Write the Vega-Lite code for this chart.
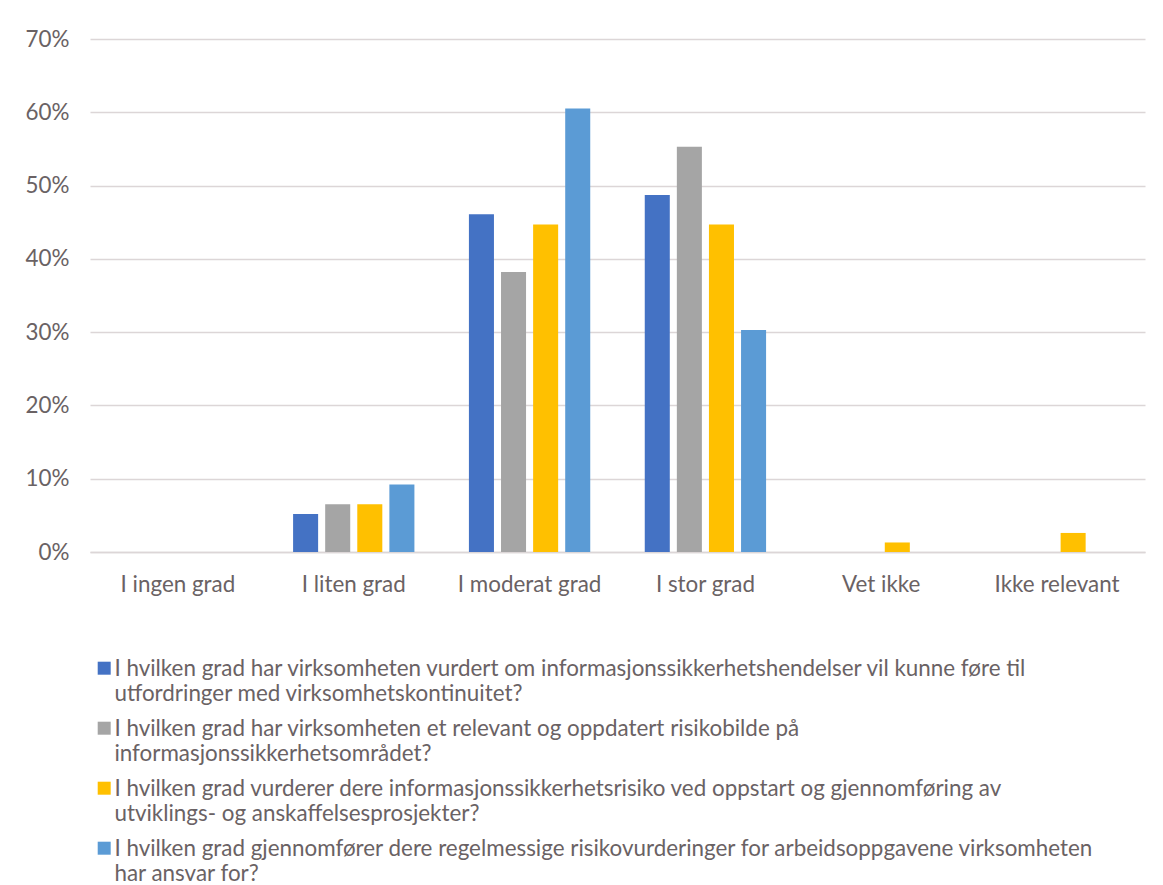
{
  "$schema": "https://vega.github.io/schema/vega-lite/v6.json",
  "width": 1055,
  "height": 513,
  "autosize": {"type": "none"},
  "padding": {"left": 90, "top": 39, "right": 18, "bottom": 333},
  "background": "white",
  "data": {
    "values": [
      {"kategori": "I ingen grad", "serie": "S1", "andel": 0},
      {"kategori": "I ingen grad", "serie": "S2", "andel": 0},
      {"kategori": "I ingen grad", "serie": "S3", "andel": 0},
      {"kategori": "I ingen grad", "serie": "S4", "andel": 0},
      {"kategori": "I liten grad", "serie": "S1", "andel": 0.052},
      {"kategori": "I liten grad", "serie": "S2", "andel": 0.065},
      {"kategori": "I liten grad", "serie": "S3", "andel": 0.065},
      {"kategori": "I liten grad", "serie": "S4", "andel": 0.092},
      {"kategori": "I moderat grad", "serie": "S1", "andel": 0.461},
      {"kategori": "I moderat grad", "serie": "S2", "andel": 0.382},
      {"kategori": "I moderat grad", "serie": "S3", "andel": 0.447},
      {"kategori": "I moderat grad", "serie": "S4", "andel": 0.605},
      {"kategori": "I stor grad", "serie": "S1", "andel": 0.487},
      {"kategori": "I stor grad", "serie": "S2", "andel": 0.553},
      {"kategori": "I stor grad", "serie": "S3", "andel": 0.447},
      {"kategori": "I stor grad", "serie": "S4", "andel": 0.303},
      {"kategori": "Vet ikke", "serie": "S1", "andel": 0},
      {"kategori": "Vet ikke", "serie": "S2", "andel": 0},
      {"kategori": "Vet ikke", "serie": "S3", "andel": 0.013},
      {"kategori": "Vet ikke", "serie": "S4", "andel": 0},
      {"kategori": "Ikke relevant", "serie": "S1", "andel": 0},
      {"kategori": "Ikke relevant", "serie": "S2", "andel": 0},
      {"kategori": "Ikke relevant", "serie": "S3", "andel": 0.026},
      {"kategori": "Ikke relevant", "serie": "S4", "andel": 0}
    ]
  },
  "mark": {"type": "bar"},
  "encoding": {
    "x": {
      "field": "kategori",
      "type": "nominal",
      "sort": ["I ingen grad", "I liten grad", "I moderat grad", "I stor grad", "Vet ikke", "Ikke relevant"],
      "scale": {"paddingInner": 0.31, "paddingOuter": 0.155},
      "axis": {
        "title": null,
        "labelAngle": 0,
        "ticks": false,
        "domain": true,
        "domainColor": "#dcd6d7",
        "domainWidth": 1.5,
        "labelPadding": 21,
        "labelFontSize": 22.4,
        "labelFont": "Lato",
        "labelColor": "#6a6264"
      }
    },
    "xOffset": {
      "field": "serie",
      "type": "nominal",
      "sort": ["S1", "S2", "S3", "S4"],
      "scale": {"paddingInner": 0.22, "paddingOuter": 0}
    },
    "y": {
      "field": "andel",
      "type": "quantitative",
      "scale": {"domain": [0, 0.7]},
      "axis": {
        "title": null,
        "format": ".0%",
        "values": [0, 0.1, 0.2, 0.3, 0.4, 0.5, 0.6, 0.7],
        "labelOverlap": false,
        "ticks": false,
        "domain": false,
        "gridColor": "#dcd6d7",
        "gridWidth": 1.5,
        "labelPadding": 21,
        "labelFontSize": 22.4,
        "labelFont": "Lato",
        "labelColor": "#6a6264"
      }
    },
    "color": {
      "field": "serie",
      "type": "nominal",
      "scale": {
        "domain": ["S1", "S2", "S3", "S4"],
        "range": ["#4472C4", "#A5A5A5", "#FFC000", "#5B9BD5"]
      },
      "legend": {
        "title": null,
        "orient": "none",
        "legendX": 3,
        "legendY": 618,
        "direction": "vertical",
        "symbolType": "square",
        "symbolSize": 169,
        "symbolStrokeWidth": 0,
        "labelFont": "Lato",
        "labelFontSize": 22.4,
        "labelColor": "#6a6264",
        "labelLimit": 1100,
        "labelBaseline": "top",
        "labelOffset": -1,
        "rowPadding": 11,
        "encode": {
          "labels": {"update": {"lineHeight": {"value": 25}, "dy": {"value": -10}}}
        },
        "labelExpr": "datum.value == 'S1' ? ['I hvilken grad har virksomheten vurdert om informasjonssikkerhetshendelser vil kunne føre til', 'utfordringer med virksomhetskontinuitet?'] : datum.value == 'S2' ? ['\u2005I hvilken grad har virksomheten et relevant og oppdatert risikobilde på', 'informasjonssikkerhetsområdet?'] : datum.value == 'S3' ? ['\u2005I hvilken grad vurderer dere informasjonssikkerhetsrisiko ved oppstart og gjennomføring av', 'utviklings- og anskaffelsesprosjekter?'] : ['I hvilken grad gjennomfører dere regelmessige risikovurderinger for arbeidsoppgavene virksomheten', 'har ansvar for?']"
      }
    }
  },
  "config": {
    "view": {"stroke": null},
    "font": "Lato"
  }
}
